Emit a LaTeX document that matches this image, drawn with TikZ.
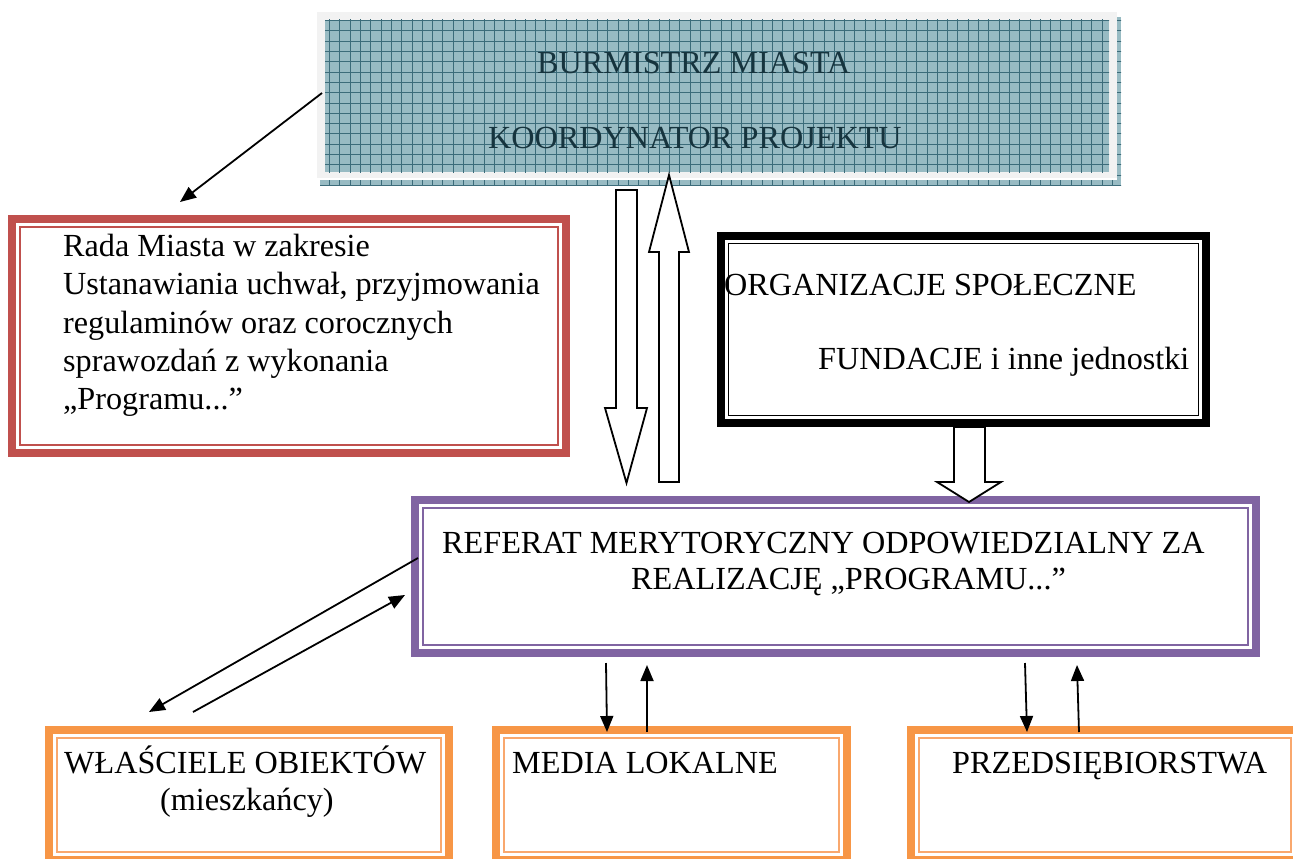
\documentclass[tikz,border=0pt]{standalone}
\usepackage{fontspec}
\setmainfont{Liberation Serif}
\usetikzlibrary{arrows.meta}
\definecolor{cred}{HTML}{C0504D}
\definecolor{cpurple}{HTML}{8064A2}
\definecolor{corange}{HTML}{F79646}
\definecolor{corangelt}{HTML}{F9A86E}
\definecolor{gridbg}{RGB}{152,187,195}
\definecolor{gridln}{RGB}{60,108,122}
\definecolor{gridtxt}{RGB}{22,52,62}
\definecolor{framegray}{RGB}{242,242,242}
\tikzset{
  band/.style={draw=#1, line width=7.6pt, rectangle, inner sep=0pt, fill=white},
  thinline/.style={draw=#1, line width=1.8pt},
  txt/.style={font=\fontsize{32.2}{39}\selectfont, inner sep=0pt, anchor=base west},
  thinarrow/.style={line width=1.8pt, -{Triangle[length=16pt,width=13pt]}},
  hollow/.style={draw=black, line width=1.8pt, fill=white, line join=miter},
  gridlines/.style={draw=gridln, line width=0.85pt, step=10.3pt},
}
\begin{document}
\begin{tikzpicture}[x=1pt,y=-1pt]
\useasboundingbox (0,0) rectangle (1293,859);
\fill[white] (0,0) rectangle (1293,859);

% ---- top box: shadow, frame, grid ----
\begin{scope}
  \clip (320,17) rectangle (1121,185);
  \fill[gridbg] (320,17) rectangle (1121,185);
  \draw[gridlines] (310,10) grid (1130,190);
\end{scope}
\fill[white] (317,12) rectangle (1117,180);
\node[fill=framegray, rectangle, inner sep=0pt, minimum width=800pt, minimum height=166pt] (burm) at (717,95) {};
\begin{scope}
  \clip (325,20) rectangle (1109,172);
  \fill[gridbg] (325,20) rectangle (1109,172);
  \draw[gridlines] (310,10) grid (1130,190);
\end{scope}
\node[txt, text=gridtxt] (burm1) at (537,74) {BURMISTRZ MIASTA};
\node[txt, text=gridtxt] (burm2) at (488,148) {KOORDYNATOR PROJEKTU};

% ---- Rada Miasta ----
\node[band=cred, minimum width=554.4pt, minimum height=234.4pt] (rada) at (289,336) {};
\draw[thinline=cred] ([shift={(12,12)}]rada.north west) rectangle ([shift={(-12,-12)}]rada.south east);
\node[txt] (rada1) at (63,256.5) {Rada Miasta w zakresie};
\node[txt] (rada2) at (63,294.8) {Ustanawiania uchwał, przyjmowania};
\node[txt] (rada3) at (63,333.1) {regulaminów oraz corocznych};
\node[txt] (rada4) at (63,371.4) {sprawozdań z wykonania};
\node[txt] (rada5) at (63,409.7) {„Programu...”};

% ---- Organizacje ----
\node[band=black, line width=8pt, minimum width=485pt, minimum height=187pt] (org) at (963.5,329.5) {};
\draw[thinline=black] ([shift={(11.5,11.5)}]org.north west) rectangle ([shift={(-11.5,-11.5)}]org.south east);
\node[txt] (org1) at (724,295) {ORGANIZACJE SPOŁECZNE};
\node[txt] (org2) at (818,369) {FUNDACJE i inne jednostki};

% ---- Referat ----
\node[band=cpurple, minimum width=841.4pt, minimum height=153.4pt] (ref) at (835.5,576.5) {};
\draw[thinline=cpurple] ([shift={(12,12)}]ref.north west) rectangle ([shift={(-12,-12)}]ref.south east);
\node[txt] (ref1) at (442,553) {REFERAT MERYTORYCZNY ODPOWIEDZIALNY ZA};
\node[txt] (ref2) at (631,589) {REALIZACJĘ „PROGRAMU...”};

% ---- hollow arrow from organizacje to referat ----
\draw[hollow] (954,427)--(985,427)--(985,482)--(1001,482)--(969,502)--(937,482)--(954,482)--cycle;

% ---- bottom boxes ----
\node[band=corange, minimum width=400.4pt, minimum height=130.4pt] (wl) at (249,795) {};
\draw[thinline=corangelt] ([shift={(12,12)}]wl.north west) rectangle ([shift={(-12,-12)}]wl.south east);
\node[band=corange, minimum width=351.4pt, minimum height=130.4pt] (med) at (671.5,795) {};
\draw[thinline=corangelt] ([shift={(12,12)}]med.north west) rectangle ([shift={(-12,-12)}]med.south east);
\node[band=corange, minimum width=388.4pt, minimum height=130.4pt] (prz) at (1105,795) {};
\draw[thinline=corangelt] ([shift={(12,12)}]prz.north west) rectangle ([shift={(-12,-12)}]prz.south east);
\node[txt] (wl1) at (64,773) {WŁAŚCIELE OBIEKTÓW};
\node[txt] (wl2) at (160,810) {(mieszkańcy)};
\node[txt] (med1) at (512,773) {MEDIA LOKALNE};
\node[txt] (prz1) at (952,773) {PRZEDSIĘBIORSTWA};

% ---- hollow arrows between burmistrz and referat ----
\draw[hollow] (616,190)--(637,190)--(637,408)--(647,408)--(626.5,483)--(605,408)--(616,408)--cycle;
\draw[hollow] (659,482)--(679,482)--(679,252)--(689,252)--(669,175)--(649,252)--(659,252)--cycle;

% ---- thin arrows ----
\coordinate (a1s) at (322,93);   \coordinate (a1e) at (180,202);
\coordinate (w1s) at (418,558);  \coordinate (w1e) at (149,712);
\coordinate (w2s) at (193,712);  \coordinate (w2e) at (405,595);
\coordinate (m1s) at (606,663);  \coordinate (m1e) at (607,732);
\coordinate (m2s) at (647,732);  \coordinate (m2e) at (647,665);
\coordinate (p1s) at (1025,663); \coordinate (p1e) at (1027,732);
\coordinate (p2s) at (1079,732); \coordinate (p2e) at (1077,665);
\draw[thinarrow] (a1s) -- (a1e);
\draw[thinarrow] (w1s) -- (w1e);
\draw[thinarrow] (w2s) -- (w2e);
\draw[thinarrow] (m1s) -- (m1e);
\draw[thinarrow] (m2s) -- (m2e);
\draw[thinarrow] (p1s) -- (p1e);
\draw[thinarrow] (p2s) -- (p2e);
\end{tikzpicture}
\end{document}
